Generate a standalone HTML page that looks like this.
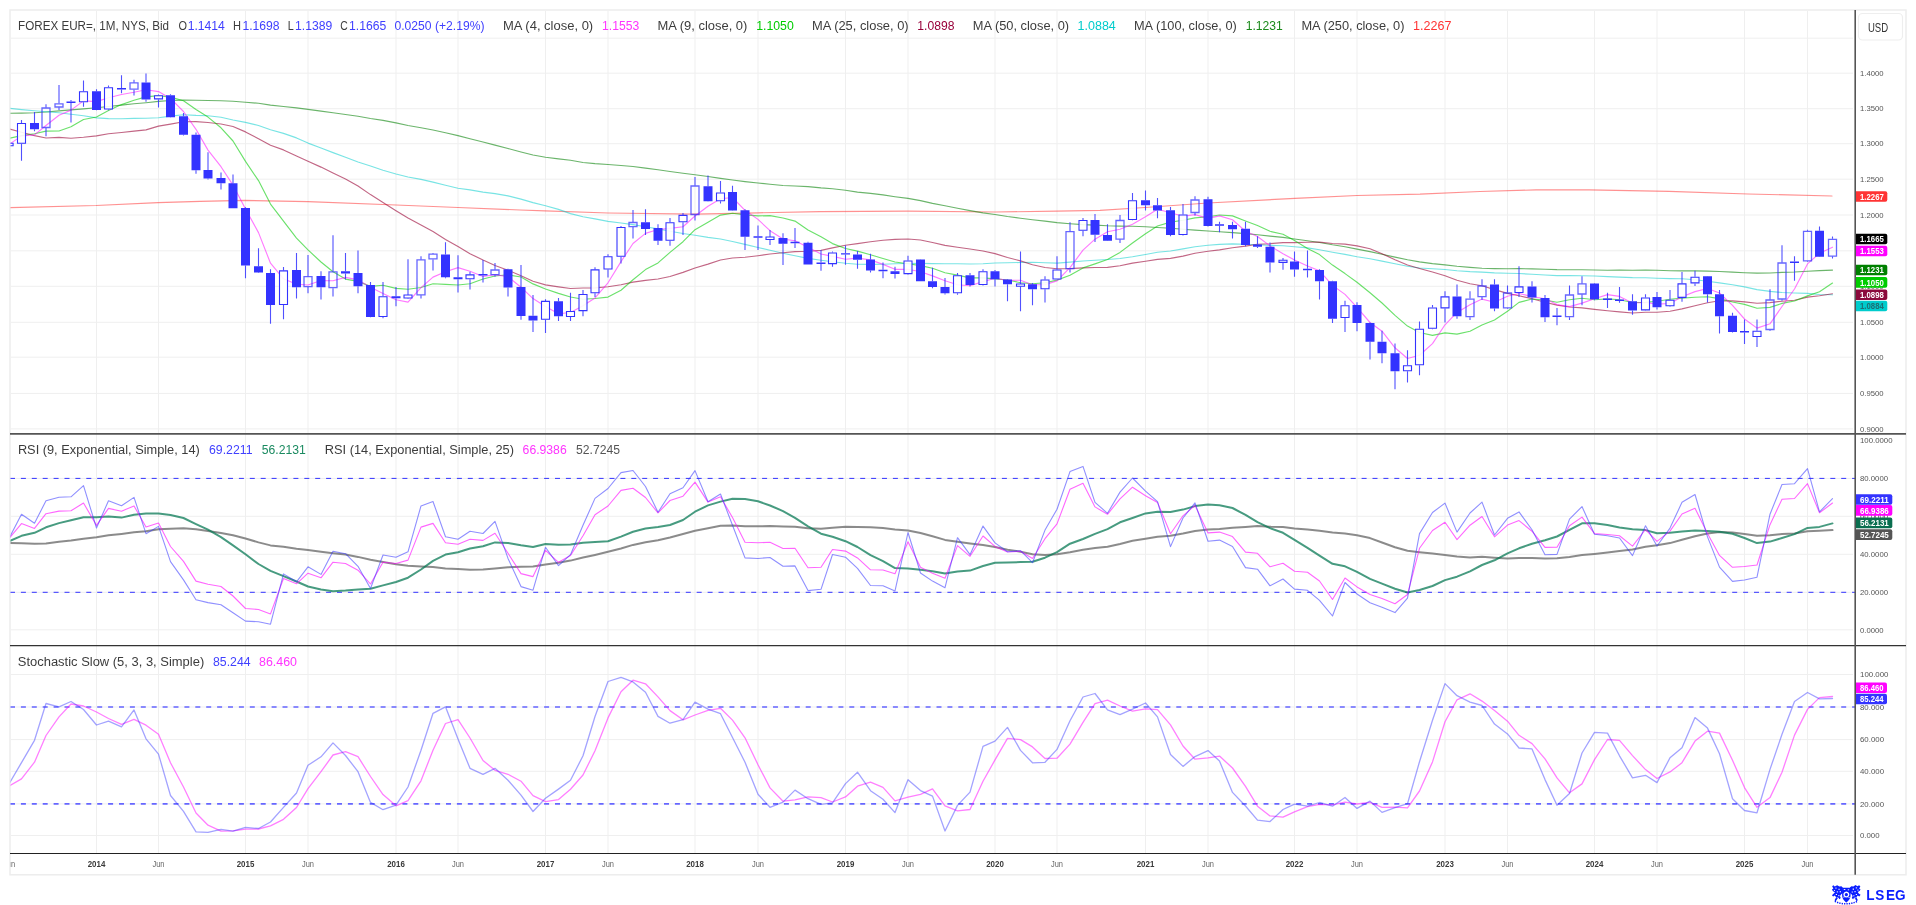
<!DOCTYPE html>
<html lang="en"><head><meta charset="utf-8"><title>FOREX EUR= 1M</title>
<style>html,body{margin:0;padding:0;background:#fff;overflow:hidden}body{width:1916px;height:905px;position:relative}</style></head>
<body>
<svg width="1916" height="905" viewBox="0 0 1916 905" style="position:absolute;left:0;top:0;will-change:transform;font-family:'Liberation Sans',sans-serif">
<defs><clipPath id="cp"><rect x="10.5" y="10" width="1844.5" height="844"/></clipPath></defs>
<defs><clipPath id="cp2"><rect x="10.5" y="855" width="1844" height="19"/></clipPath></defs>
<rect x="0" y="0" width="1916" height="905" fill="#fff"/>
<rect x="10" y="10" width="1896" height="864.8" fill="none" stroke="#ededed" stroke-width="1.5"/>
<path d="M96.5 11V853 M158.5 11V853 M245.5 11V853 M308.0 11V853 M396.0 11V853 M458.0 11V853 M545.5 11V853 M608.0 11V853 M695.0 11V853 M758.0 11V853 M845.5 11V853 M908.0 11V853 M995.0 11V853 M1057.0 11V853 M1145.5 11V853 M1208.0 11V853 M1294.5 11V853 M1357.0 11V853 M1445.0 11V853 M1507.5 11V853 M1594.5 11V853 M1657.0 11V853 M1744.5 11V853 M1807.5 11V853 M11 38.2H1853 M11 73.2H1853 M11 108.7H1853 M11 143.7H1853 M11 179.2H1853 M11 215.0H1853 M11 250.8H1853 M11 286.3H1853 M11 322.3H1853 M11 357.2H1853 M11 393.4H1853 M11 428.9H1853 M11 629.8H1853 M11 592.3H1853 M11 554.3H1853 M11 516.3H1853 M11 478.4H1853 M11 835.5H1853 M11 803.9H1853 M11 771.3H1853 M11 739.6H1853 M11 707.0H1853 M11 674.5H1853" stroke="#efefef" stroke-width="1" fill="none"/>
<g clip-path="url(#cp)" fill="none" stroke-linejoin="round" stroke-linecap="round">
<polyline points="7.0,207.6 96.0,205.5 158.0,202.6 200.0,201.3 245.0,200.4 308.0,201.7 396.0,205.0 458.0,207.5 520.0,210.0 545.0,210.8 608.0,213.0 695.0,214.2 758.0,212.8 820.0,211.7 908.0,211.2 995.0,212.0 1057.0,211.2 1100.0,210.3 1145.0,207.5 1208.0,203.0 1295.0,198.3 1357.0,195.5 1420.0,194.2 1480.0,191.5 1536.0,189.9 1589.0,189.8 1669.0,191.4 1748.0,194.0 1832.0,196.0" stroke="#ff3333" stroke-width="1.2" stroke-opacity="0.54"/>
<polyline points="9.1,113.3 21.5,113.1 34.5,112.8 46.0,112.0 59.0,110.9 71.0,109.9 83.5,108.9 96.5,107.8 108.5,106.5 121.5,105.1 134.0,103.7 146.0,102.7 158.5,101.4 170.5,100.5 183.5,100.1 196.0,100.3 208.0,100.5 221.0,100.7 233.0,101.2 245.5,102.2 258.5,103.3 270.5,105.1 283.5,106.5 296.5,107.9 308.0,109.4 321.0,111.1 333.0,112.8 345.5,114.5 358.0,116.3 370.5,118.5 383.0,120.4 396.0,122.9 408.0,125.5 421.0,127.8 433.0,130.0 445.5,132.7 458.0,135.6 470.0,138.8 483.0,142.0 495.0,145.1 508.0,148.5 521.0,152.0 533.0,155.0 545.5,157.3 558.5,158.9 570.5,160.3 583.0,162.5 595.0,163.6 608.0,164.5 621.0,165.5 633.0,166.5 645.5,168.1 658.0,169.8 670.0,171.5 683.0,173.2 695.0,174.7 708.0,176.5 720.5,178.4 732.5,180.0 745.0,181.6 758.0,183.0 770.0,184.3 783.0,185.5 795.0,186.0 808.0,186.6 821.0,187.9 832.5,188.7 845.5,190.3 857.5,192.1 870.5,193.4 883.0,194.9 895.0,196.7 908.0,198.4 920.5,200.6 932.5,203.4 945.0,205.8 957.5,208.2 970.0,210.6 983.0,212.9 995.0,214.5 1007.5,216.5 1020.5,218.2 1032.5,219.7 1045.0,221.1 1057.0,222.6 1070.0,223.7 1083.0,224.6 1095.0,225.1 1107.5,225.8 1120.0,226.1 1132.5,226.3 1145.5,226.8 1157.5,227.5 1170.5,228.3 1183.0,229.2 1195.0,230.1 1208.0,231.0 1219.5,231.7 1232.5,232.6 1245.5,233.6 1257.5,234.7 1270.0,236.1 1283.0,237.4 1294.5,239.0 1307.5,240.7 1319.5,242.5 1332.5,244.8 1345.0,246.7 1357.0,249.1 1370.0,251.6 1382.0,254.3 1395.0,257.1 1407.5,259.8 1419.5,261.9 1432.5,263.6 1445.0,264.9 1457.0,266.3 1470.0,267.4 1482.0,268.2 1494.5,268.6 1507.5,268.8 1519.0,268.6 1532.0,268.9 1545.0,269.2 1557.0,269.6 1569.5,269.7 1582.0,269.8 1594.5,270.0 1607.5,270.2 1619.5,270.0 1632.5,270.2 1645.5,270.1 1657.0,270.3 1670.0,270.7 1682.0,270.9 1695.0,270.9 1707.5,271.1 1719.5,271.5 1732.5,272.1 1744.5,272.7 1757.0,273.1 1770.0,273.0 1782.0,272.4 1794.5,272.0 1807.5,271.2 1819.5,270.6 1832.5,270.1" stroke="#008000" stroke-width="1.15" stroke-opacity="0.58"/>
<polyline points="9.1,108.3 21.5,109.6 34.5,110.7 46.0,111.8 59.0,112.8 71.0,114.3 83.5,115.7 96.5,117.9 108.5,118.6 121.5,118.7 134.0,118.4 146.0,118.2 158.5,117.7 170.5,116.1 183.5,114.8 196.0,115.4 208.0,115.7 221.0,117.3 233.0,120.0 245.5,122.4 258.5,125.5 270.5,129.7 283.5,133.4 296.5,137.9 308.0,143.1 321.0,148.0 333.0,152.6 345.5,157.2 358.0,162.0 370.5,166.0 383.0,170.3 396.0,174.0 408.0,177.0 421.0,179.4 433.0,182.1 445.5,185.2 458.0,188.2 470.0,189.9 483.0,192.1 495.0,193.6 508.0,195.9 521.0,199.1 533.0,202.6 545.5,205.7 558.5,209.4 570.5,213.6 583.0,216.7 595.0,218.9 608.0,221.4 621.0,223.0 633.0,224.6 645.5,226.7 658.0,228.9 670.0,231.3 683.0,233.5 695.0,235.2 708.0,237.4 720.5,239.0 732.5,241.5 745.0,244.4 758.0,247.5 770.0,250.3 783.0,253.3 795.0,255.8 808.0,258.4 821.0,260.3 832.5,261.8 845.5,263.2 857.5,264.2 870.5,264.4 883.0,264.3 895.0,263.7 908.0,263.5 920.5,263.4 932.5,263.6 945.0,263.7 957.5,263.8 970.0,264.0 983.0,263.7 995.0,263.0 1007.5,262.7 1020.5,262.5 1032.5,262.3 1045.0,262.7 1057.0,263.1 1070.0,262.1 1083.0,261.0 1095.0,260.2 1107.5,259.5 1120.0,258.5 1132.5,256.7 1145.5,254.5 1157.5,252.3 1170.5,251.0 1183.0,248.9 1195.0,246.7 1208.0,245.3 1219.5,244.4 1232.5,243.9 1245.5,244.3 1257.5,244.8 1270.0,245.4 1283.0,245.8 1294.5,246.8 1307.5,247.9 1319.5,249.8 1332.5,252.2 1345.0,254.4 1357.0,256.7 1370.0,258.8 1382.0,261.1 1395.0,263.8 1407.5,266.3 1419.5,268.0 1432.5,268.8 1445.0,269.5 1457.0,270.7 1470.0,271.6 1482.0,272.1 1494.5,272.9 1507.5,273.3 1519.0,273.5 1532.0,274.3 1545.0,275.0 1557.0,275.6 1569.5,275.6 1582.0,275.8 1594.5,276.0 1607.5,276.6 1619.5,277.1 1632.5,277.6 1645.5,277.8 1657.0,278.2 1670.0,278.6 1682.0,278.8 1695.0,279.7 1707.5,281.2 1719.5,282.9 1732.5,284.7 1744.5,286.9 1757.0,289.6 1770.0,291.4 1782.0,292.5 1794.5,293.0 1807.5,293.4 1819.5,294.5 1832.5,294.8" stroke="#00cccc" stroke-width="1.15" stroke-opacity="0.53"/>
<polyline points="9.1,128.8 21.5,132.2 34.5,135.6 46.0,138.0 59.0,137.4 71.0,138.2 83.5,137.3 96.5,135.9 108.5,133.8 121.5,132.5 134.0,131.1 146.0,129.9 158.5,126.1 170.5,124.1 183.5,121.7 196.0,121.6 208.0,122.5 221.0,124.0 233.0,126.5 245.5,131.9 258.5,138.7 270.5,145.3 283.5,149.9 296.5,156.1 308.0,161.3 321.0,167.1 333.0,173.0 345.5,178.9 358.0,186.0 370.5,194.6 383.0,202.4 396.0,210.7 408.0,218.1 421.0,225.0 433.0,231.6 445.5,239.4 458.0,246.6 470.0,253.7 483.0,260.1 495.0,265.5 508.0,270.2 521.0,275.7 533.0,281.2 545.5,284.9 558.5,286.9 570.5,288.5 583.0,288.0 595.0,287.9 608.0,286.7 621.0,284.7 633.0,282.1 645.5,280.4 658.0,279.0 670.0,276.5 683.0,272.4 695.0,268.0 708.0,264.1 720.5,260.0 732.5,258.0 745.0,257.3 758.0,255.7 770.0,254.0 783.0,252.8 795.0,251.6 808.0,251.3 821.0,250.4 832.5,247.9 845.5,245.2 857.5,243.6 870.5,241.8 883.0,240.2 895.0,239.4 908.0,239.0 920.5,240.0 932.5,242.5 945.0,245.4 957.5,247.2 970.0,249.0 983.0,251.0 995.0,253.6 1007.5,257.5 1020.5,260.9 1032.5,264.7 1045.0,267.5 1057.0,268.8 1070.0,268.6 1083.0,267.9 1095.0,267.5 1107.5,267.4 1120.0,265.7 1132.5,263.1 1145.5,261.2 1157.5,259.4 1170.5,258.4 1183.0,256.1 1195.0,253.2 1208.0,251.3 1219.5,249.9 1232.5,247.8 1245.5,246.1 1257.5,244.2 1270.0,243.7 1283.0,242.6 1294.5,242.6 1307.5,242.2 1319.5,242.1 1332.5,243.5 1345.0,244.1 1357.0,245.9 1370.0,248.8 1382.0,253.7 1395.0,259.7 1407.5,265.0 1419.5,268.5 1432.5,272.0 1445.0,275.8 1457.0,280.3 1470.0,283.8 1482.0,285.8 1494.5,289.6 1507.5,293.4 1519.0,295.8 1532.0,298.7 1545.0,302.2 1557.0,305.1 1569.5,307.0 1582.0,307.9 1594.5,309.4 1607.5,310.7 1619.5,311.9 1632.5,313.0 1645.5,312.2 1657.0,312.2 1670.0,311.2 1682.0,308.9 1695.0,305.8 1707.5,302.7 1719.5,300.8 1732.5,300.9 1744.5,301.9 1757.0,303.3 1770.0,302.6 1782.0,301.2 1794.5,300.3 1807.5,297.1 1819.5,295.7 1832.5,293.8" stroke="#990033" stroke-width="1.15" stroke-opacity="0.6"/>
<polyline points="9.1,138.3 21.5,135.6 34.5,133.7 46.0,131.1 59.0,131.0 71.0,126.8 83.5,119.5 96.5,117.0 108.5,110.6 121.5,104.6 134.0,100.2 146.0,96.9 158.5,95.6 170.5,97.1 183.5,100.7 196.0,109.5 208.0,117.1 221.0,127.8 233.0,141.0 245.5,161.4 258.5,180.6 270.5,204.1 283.5,221.2 296.5,238.1 308.0,249.9 321.0,262.0 333.0,271.8 345.5,279.1 358.0,281.4 370.5,286.4 383.0,285.3 396.0,288.4 408.0,289.3 421.0,287.5 433.0,283.8 445.5,284.4 458.0,285.0 470.0,283.7 483.0,279.0 495.0,276.0 508.0,274.8 521.0,277.0 533.0,283.9 545.5,289.0 558.5,293.4 570.5,297.0 583.0,299.2 595.0,298.5 608.0,297.1 621.0,290.3 633.0,279.8 645.5,269.6 658.0,262.9 670.0,252.4 683.0,241.7 695.0,229.7 708.0,222.2 720.5,215.1 732.5,213.2 745.0,214.9 758.0,215.9 770.0,215.6 783.0,218.0 795.0,221.1 808.0,229.9 821.0,236.8 832.5,243.6 845.5,248.5 857.5,251.1 870.5,254.8 883.0,258.5 895.0,262.0 908.0,263.8 920.5,265.6 932.5,268.3 945.0,272.8 957.5,275.1 970.0,277.9 983.0,277.9 995.0,278.9 1007.5,280.0 1020.5,282.7 1032.5,283.7 1045.0,282.8 1057.0,280.1 1070.0,275.2 1083.0,267.9 1095.0,263.9 1107.5,259.5 1120.0,252.4 1132.5,243.0 1145.5,233.7 1157.5,226.0 1170.5,222.1 1183.0,220.2 1195.0,217.9 1208.0,216.8 1219.5,215.0 1232.5,215.9 1245.5,221.0 1257.5,225.5 1270.0,231.3 1283.0,234.2 1294.5,240.4 1307.5,248.4 1319.5,254.6 1332.5,265.1 1345.0,273.6 1357.0,282.2 1370.0,292.8 1382.0,303.0 1395.0,315.4 1407.5,326.1 1419.5,332.5 1432.5,335.4 1445.0,332.9 1457.0,334.1 1470.0,331.3 1482.0,325.0 1494.5,320.0 1507.5,311.2 1519.0,302.4 1532.0,299.0 1545.0,300.0 1557.0,302.3 1569.5,299.8 1582.0,298.2 1594.5,299.8 1607.5,298.9 1619.5,299.8 1632.5,302.5 1645.5,302.4 1657.0,301.3 1670.0,299.3 1682.0,298.1 1695.0,297.3 1707.5,296.8 1719.5,298.6 1732.5,302.0 1744.5,304.4 1757.0,308.2 1770.0,307.4 1782.0,303.4 1794.5,301.0 1807.5,295.9 1819.5,291.7 1832.5,283.1" stroke="#00cc00" stroke-width="1.15" stroke-opacity="0.58"/>
<polyline points="9.1,144.5 21.5,135.9 34.5,134.9 46.0,125.5 59.0,115.3 71.0,110.1 83.5,100.9 96.5,101.6 108.5,97.7 121.5,94.5 134.0,92.3 146.0,89.7 158.5,91.6 170.5,98.4 183.5,111.5 196.0,129.3 208.0,150.1 221.0,166.7 233.0,185.1 245.5,209.0 258.5,232.6 270.5,263.2 283.5,278.8 296.5,284.2 308.0,285.0 321.0,280.5 333.0,280.8 345.5,277.4 358.0,279.9 370.5,287.3 383.0,293.6 396.0,299.7 408.0,302.1 421.0,287.6 433.0,277.1 445.5,271.8 458.0,267.6 470.0,271.3 483.0,276.5 495.0,274.6 508.0,276.8 521.0,287.2 533.0,298.6 545.5,306.5 558.5,313.7 570.5,312.5 583.0,305.8 595.0,297.9 608.0,282.8 621.0,261.6 633.0,243.5 645.5,233.4 658.0,229.5 670.0,228.4 683.0,226.7 695.0,216.0 708.0,206.3 720.5,198.8 732.5,197.5 745.0,210.3 758.0,219.4 770.0,230.7 783.0,239.1 795.0,240.7 808.0,247.3 821.0,254.0 832.5,256.4 845.5,259.2 857.5,258.1 870.5,259.9 883.0,264.4 895.0,269.3 908.0,269.3 920.5,271.8 932.5,275.9 945.0,280.8 957.5,284.7 970.0,285.7 983.0,281.6 995.0,278.2 1007.5,280.4 1020.5,280.2 1032.5,284.8 1045.0,284.6 1057.0,280.9 1070.0,267.6 1083.0,250.2 1095.0,239.2 1107.5,231.8 1120.0,229.2 1132.5,224.2 1145.5,216.8 1157.5,209.2 1170.5,212.7 1183.0,216.2 1195.0,214.6 1208.0,218.4 1219.5,215.9 1232.5,219.7 1245.5,231.2 1257.5,236.5 1270.0,245.9 1283.0,253.7 1294.5,259.9 1307.5,266.0 1319.5,270.8 1332.5,285.4 1345.0,294.4 1357.0,307.4 1370.0,322.5 1382.0,331.2 1395.0,347.8 1407.5,358.5 1419.5,355.2 1432.5,343.6 1445.0,324.8 1457.0,312.4 1470.0,304.7 1482.0,299.1 1494.5,302.2 1507.5,296.3 1519.0,293.5 1532.0,296.6 1545.0,298.7 1557.0,304.6 1569.5,306.6 1582.0,303.1 1594.5,298.7 1607.5,294.6 1619.5,296.4 1632.5,303.0 1645.5,302.5 1657.0,304.1 1670.0,303.5 1682.0,296.7 1695.0,291.6 1707.5,288.5 1719.5,293.0 1732.5,305.3 1744.5,319.0 1757.0,328.1 1770.0,323.8 1782.0,306.5 1794.5,289.0 1807.5,263.9 1819.5,253.2 1832.5,247.2" stroke="#ff00ff" stroke-width="1.15" stroke-opacity="0.52"/>
</g>
<g clip-path="url(#cp)">
<path d="M9.1 114.5V142.7M9.1 146.3V147.2 M21.5 120.0V123.0M21.5 143.8V160.8 M34.5 112.0V123.0M34.5 129.2V131.3 M46.0 104.2V107.5M46.0 128.0V136.3 M59.0 85.0V103.3M59.0 107.5V110.0 M71.0 100.0V101.6M71.0 103.1V122.5 M83.5 80.6V91.2M83.5 102.2V106.7 M96.5 89.2V91.2M96.5 110.1V110.3 M108.5 85.4V87.2M108.5 109.5V110.2 M121.5 75.3V87.9M121.5 89.4V93.3 M134.0 79.7V82.4M134.0 89.7V95.5 M146.0 73.5V82.4M146.0 99.4V101.7 M158.5 94.5V95.2M158.5 99.4V107.5 M170.5 94.2V95.2M170.5 117.3V117.5 M183.5 113.0V116.3M183.5 134.8V135.5 M196.0 132.6V134.7M196.0 170.3V173.8 M208.0 152.2V170.0M208.0 178.5V179.5 M221.0 172.4V178.0M221.0 183.2V189.6 M233.0 174.5V183.2M233.0 208.2V208.3 M245.5 207.3V208.0M245.5 265.5V278.3 M258.5 248.3V266.2M258.5 272.4V272.9 M270.5 269.2V273.0M270.5 305.0V323.8 M283.5 267.0V270.4M283.5 305.0V319.2 M296.5 253.0V270.0M296.5 287.3V298.4 M308.0 255.0V276.2M308.0 287.1V293.3 M321.0 271.2V276.1M321.0 287.3V299.5 M333.0 235.3V271.3M333.0 288.2V296.4 M345.5 253.0V271.2M345.5 273.4V279.5 M358.0 250.4V273.0M358.0 286.2V293.3 M370.5 282.0V285.1M370.5 317.0V317.2 M383.0 282.0V296.2M383.0 317.0V318.3 M396.0 287.0V296.2M396.0 298.2V306.3 M408.0 259.2V295.0M408.0 298.0V298.6 M421.0 256.2V259.4M421.0 295.3V298.4 M433.0 253.0V253.7M433.0 259.4V270.5 M445.5 242.2V254.5M445.5 277.3V278.3 M458.0 255.3V277.2M458.0 279.3V292.5 M470.0 271.7V274.4M470.0 279.2V289.5 M483.0 260.0V273.9M483.0 275.4V282.5 M495.0 262.9V269.5M495.0 275.2V276.7 M508.0 268.8V269.2M508.0 287.5V296.4 M521.0 265.0V287.1M521.0 316.0V319.7 M533.0 295.0V315.8M533.0 320.6V332.0 M545.5 299.3V300.9M545.5 319.7V332.9 M558.5 298.0V301.2M558.5 316.2V321.1 M570.5 292.8V311.0M570.5 317.0V321.1 M583.0 290.0V294.0M583.0 311.1V316.2 M595.0 267.2V269.4M595.0 293.3V297.1 M608.0 254.2V256.3M608.0 269.5V277.5 M621.0 225.9V227.0M621.0 256.7V263.4 M633.0 210.0V222.0M633.0 227.1V238.6 M645.5 209.2V222.2M645.5 229.1V235.0 M658.0 224.2V228.0M658.0 240.7V245.0 M670.0 218.0V222.2M670.0 240.8V245.8 M683.0 213.0V214.9M683.0 222.2V235.0 M695.0 176.9V185.5M695.0 215.0V220.5 M708.0 175.6V186.3M708.0 201.3V201.5 M720.5 180.9V192.5M720.5 201.3V203.4 M732.5 185.8V192.1M732.5 210.5V210.7 M745.0 209.2V210.3M745.0 236.7V250.0 M758.0 225.5V236.2M758.0 237.7V250.0 M770.0 230.0V237.0M770.0 239.5V245.0 M783.0 233.3V238.0M783.0 243.8V265.0 M795.0 227.9V241.7M795.0 243.2V248.0 M808.0 241.7V242.8M808.0 264.5V264.6 M821.0 250.0V262.6M821.0 264.1V270.8 M832.5 251.4V252.5M832.5 264.1V266.7 M845.5 245.5V253.2M845.5 254.6V264.7 M857.5 250.9V254.5M857.5 259.7V268.7 M870.5 253.8V259.5M870.5 270.5V272.5 M883.0 262.5V269.8M883.0 271.3V278.2 M895.0 266.7V271.2M895.0 274.1V278.4 M908.0 255.8V260.5M908.0 274.1V274.5 M920.5 259.2V259.5M920.5 281.2V281.3 M932.5 267.8V281.2M932.5 287.1V288.3 M945.0 278.0V287.1M945.0 293.3V294.6 M957.5 273.0V275.3M957.5 293.3V294.7 M970.0 273.0V275.3M970.0 285.0V286.4 M983.0 269.2V271.2M983.0 285.0V285.4 M995.0 270.0V271.2M995.0 279.2V286.4 M1007.5 279.1V279.5M1007.5 284.2V301.3 M1020.5 251.4V284.0M1020.5 286.2V311.3 M1032.5 283.0V284.2M1032.5 289.2V305.3 M1045.0 276.2V279.5M1045.0 289.2V302.5 M1057.0 256.3V269.5M1057.0 279.5V279.6 M1070.0 222.2V231.2M1070.0 269.2V272.5 M1083.0 218.0V220.0M1083.0 230.8V236.2 M1095.0 213.9V220.0M1095.0 234.7V242.0 M1107.5 224.2V235.0M1107.5 240.8V241.0 M1120.0 215.0V220.0M1120.0 239.6V243.0 M1132.5 193.0V200.3M1132.5 220.0V220.3 M1145.5 190.4V200.3M1145.5 205.3V210.5 M1157.5 198.0V205.3M1157.5 210.5V218.3 M1170.5 207.0V210.3M1170.5 235.0V236.3 M1183.0 204.1V214.5M1183.0 235.0V235.4 M1195.0 196.2V199.5M1195.0 213.0V215.4 M1208.0 196.7V199.2M1208.0 225.9V226.4 M1219.5 221.7V224.3M1219.5 225.8V232.2 M1232.5 221.7V225.0M1232.5 229.2V238.4 M1245.5 221.7V228.8M1245.5 245.0V246.2 M1257.5 236.3V244.5M1257.5 246.7V248.0 M1270.0 242.5V246.7M1270.0 262.5V272.5 M1283.0 258.0V260.2M1283.0 262.4V269.7 M1294.5 251.4V261.4M1294.5 269.5V276.7 M1307.5 250.4V268.8M1307.5 270.3V277.5 M1319.5 269.2V270.0M1319.5 281.3V299.5 M1332.5 280.8V281.2M1332.5 318.8V323.0 M1345.0 300.8V305.2M1345.0 318.0V332.1 M1357.0 302.2V305.0M1357.0 323.0V331.2 M1370.0 322.6V323.0M1370.0 341.7V359.5 M1382.0 330.8V341.7M1382.0 353.3V363.3 M1395.0 343.4V353.3M1395.0 371.2V389.2 M1407.5 350.3V365.3M1407.5 371.2V382.5 M1419.5 321.6V328.8M1419.5 365.3V375.3 M1432.5 305.0V307.5M1432.5 328.8V329.3 M1445.0 291.2V296.4M1445.0 308.4V322.5 M1457.0 284.5V296.4M1457.0 316.2V318.8 M1470.0 291.2V298.6M1470.0 317.2V320.0 M1482.0 279.2V285.5M1482.0 297.1V300.0 M1494.5 279.2V284.5M1494.5 308.4V311.3 M1507.5 285.4V292.5M1507.5 308.4V308.9 M1519.0 266.3V286.4M1519.0 293.0V297.1 M1532.0 281.2V286.4M1532.0 297.5V302.5 M1545.0 295.0V298.0M1545.0 317.2V322.1 M1557.0 308.0V315.5M1557.0 317.0V325.3 M1569.5 285.4V294.5M1569.5 317.2V320.0 M1582.0 276.2V283.4M1582.0 294.5V305.3 M1594.5 283.0V283.4M1594.5 299.3V300.3 M1607.5 292.8V298.6M1607.5 300.1V307.9 M1619.5 287.0V299.6M1619.5 301.1V302.8 M1632.5 294.2V301.2M1632.5 310.5V314.7 M1645.5 294.2V297.5M1645.5 310.4V310.8 M1657.0 292.0V297.1M1657.0 307.2V309.5 M1670.0 290.0V299.7M1670.0 306.3V306.7 M1682.0 272.0V283.4M1682.0 297.9V301.7 M1695.0 270.8V276.7M1695.0 283.4V285.9 M1707.5 276.1V276.3M1707.5 294.2V302.5 M1719.5 290.0V294.2M1719.5 316.2V333.4 M1732.5 312.8V315.8M1732.5 332.0V332.5 M1744.5 319.5V330.9M1744.5 332.4V344.1 M1757.0 319.5V330.8M1757.0 337.0V347.0 M1770.0 289.2V299.5M1770.0 330.0V330.7 M1782.0 245.3V262.5M1782.0 299.5V300.8 M1794.5 256.2V261.4M1794.5 262.9V280.8 M1807.5 229.7V230.8M1807.5 261.4V261.9 M1819.5 226.6V230.8M1819.5 256.7V257.0 M1832.5 236.4V238.8M1832.5 256.6V258.4" stroke="#3333ff" stroke-width="1.1" stroke-opacity="0.85" fill="none"/>
<path d="M30.0 123.0h9V129.2h-9z M66.5 101.6h9V103.1h-9z M92.0 91.2h9V110.1h-9z M117.0 87.9h9V89.4h-9z M141.5 82.4h9V99.4h-9z M166.0 95.2h9V117.3h-9z M179.0 116.3h9V134.8h-9z M191.5 134.7h9V170.3h-9z M203.5 170.0h9V178.5h-9z M216.5 178.0h9V183.2h-9z M228.5 183.2h9V208.2h-9z M241.0 208.0h9V265.5h-9z M254.0 266.2h9V272.4h-9z M266.0 273.0h9V305.0h-9z M292.0 270.0h9V287.3h-9z M316.5 276.1h9V287.3h-9z M341.0 271.2h9V273.4h-9z M353.5 273.0h9V286.2h-9z M366.0 285.1h9V317.0h-9z M391.5 296.2h9V298.2h-9z M441.0 254.5h9V277.3h-9z M453.5 277.2h9V279.3h-9z M478.5 273.9h9V275.4h-9z M503.5 269.2h9V287.5h-9z M516.5 287.1h9V316.0h-9z M528.5 315.8h9V320.6h-9z M554.0 301.2h9V316.2h-9z M641.0 222.2h9V229.1h-9z M653.5 228.0h9V240.7h-9z M703.5 186.3h9V201.3h-9z M728.0 192.1h9V210.5h-9z M740.5 210.3h9V236.7h-9z M753.5 236.2h9V237.7h-9z M778.5 238.0h9V243.8h-9z M790.5 241.7h9V243.2h-9z M803.5 242.8h9V264.5h-9z M816.5 262.6h9V264.1h-9z M841.0 253.2h9V254.6h-9z M853.0 254.5h9V259.7h-9z M866.0 259.5h9V270.5h-9z M878.5 269.8h9V271.3h-9z M890.5 271.2h9V274.1h-9z M916.0 259.5h9V281.2h-9z M928.0 281.2h9V287.1h-9z M940.5 287.1h9V293.3h-9z M965.5 275.3h9V285.0h-9z M990.5 271.2h9V279.2h-9z M1003.0 279.5h9V284.2h-9z M1028.0 284.2h9V289.2h-9z M1090.5 220.0h9V234.7h-9z M1103.0 235.0h9V240.8h-9z M1141.0 200.3h9V205.3h-9z M1153.0 205.3h9V210.5h-9z M1166.0 210.3h9V235.0h-9z M1203.5 199.2h9V225.9h-9z M1215.0 224.3h9V225.8h-9z M1228.0 225.0h9V229.2h-9z M1241.0 228.8h9V245.0h-9z M1253.0 244.5h9V246.7h-9z M1265.5 246.7h9V262.5h-9z M1290.0 261.4h9V269.5h-9z M1303.0 268.8h9V270.3h-9z M1315.0 270.0h9V281.3h-9z M1328.0 281.2h9V318.8h-9z M1352.5 305.0h9V323.0h-9z M1365.5 323.0h9V341.7h-9z M1377.5 341.7h9V353.3h-9z M1390.5 353.3h9V371.2h-9z M1452.5 296.4h9V316.2h-9z M1490.0 284.5h9V308.4h-9z M1527.5 286.4h9V297.5h-9z M1540.5 298.0h9V317.2h-9z M1552.5 315.5h9V317.0h-9z M1590.0 283.4h9V299.3h-9z M1603.0 298.6h9V300.1h-9z M1615.0 299.6h9V301.1h-9z M1628.0 301.2h9V310.5h-9z M1652.5 297.1h9V307.2h-9z M1703.0 276.3h9V294.2h-9z M1715.0 294.2h9V316.2h-9z M1728.0 315.8h9V332.0h-9z M1740.0 330.9h9V332.4h-9z M1790.0 261.4h9V262.9h-9z M1815.0 230.8h9V256.7h-9z" fill="#3333ff"/>
<path d="M5.1 143.2h8V145.8h-8z M17.5 123.5h8V143.3h-8z M79.5 91.7h8V101.7h-8z M104.5 87.7h8V109.0h-8z M154.5 95.7h8V98.9h-8z M279.5 270.9h8V304.5h-8z M379.0 296.7h8V316.5h-8z M404.0 295.0h8V298.0h-8z M466.0 274.9h8V278.7h-8z M541.5 301.4h8V319.2h-8z M566.5 311.5h8V316.5h-8z M579.0 294.5h8V310.6h-8z M591.0 269.9h8V292.8h-8z M604.0 256.8h8V269.0h-8z M617.0 227.5h8V256.2h-8z M666.0 222.7h8V240.3h-8z M679.0 215.4h8V221.7h-8z M716.5 193.0h8V200.8h-8z M766.0 237.0h8V239.5h-8z M828.5 253.0h8V263.6h-8z M904.0 261.0h8V273.6h-8z M953.5 275.8h8V292.8h-8z M979.0 271.7h8V284.5h-8z M1016.5 284.0h8V286.2h-8z M1041.0 280.0h8V288.7h-8z M1053.0 270.0h8V279.0h-8z M1079.0 220.5h8V230.3h-8z M1128.5 200.8h8V219.5h-8z M1179.0 215.0h8V234.5h-8z M1279.0 260.2h8V262.4h-8z M1341.0 305.7h8V317.5h-8z M1403.5 365.8h8V370.7h-8z M1415.5 329.3h8V364.8h-8z M1428.5 308.0h8V328.3h-8z M1441.0 296.9h8V307.9h-8z M1515.0 286.9h8V292.5h-8z M1641.5 298.0h8V309.9h-8z M1666.0 300.2h8V305.8h-8z M1678.0 283.9h8V297.4h-8z M1691.0 277.2h8V282.9h-8z M1753.0 331.3h8V336.5h-8z" fill="#fff" fill-opacity="0.9" stroke="#3333ff" stroke-width="1.1"/>
<path d="M42.0 108.0h8V127.5h-8z M55.0 103.8h8V107.0h-8z M130.0 82.9h8V89.2h-8z M304.0 276.7h8V286.6h-8z M329.0 271.8h8V287.7h-8z M417.0 259.9h8V294.8h-8z M429.0 254.2h8V258.9h-8z M491.0 270.0h8V274.7h-8z M629.0 222.5h8V226.6h-8z M691.0 186.0h8V214.5h-8z M1066.0 231.7h8V268.7h-8z M1116.0 220.5h8V239.1h-8z M1191.0 200.0h8V212.5h-8z M1466.0 299.1h8V316.7h-8z M1478.0 286.0h8V296.6h-8z M1503.5 293.0h8V307.9h-8z M1565.5 295.0h8V316.7h-8z M1578.0 283.9h8V294.0h-8z M1766.0 300.0h8V329.5h-8z M1778.0 263.0h8V299.0h-8z M1803.5 231.3h8V260.9h-8z M1828.5 239.3h8V256.1h-8z" fill="none" stroke="#3333ff" stroke-width="1.3" stroke-opacity="0.75"/>
</g>
<g clip-path="url(#cp)" fill="none" stroke-linejoin="round" stroke-linecap="round">
<path d="M10 478.4H1855" stroke="#3333ff" stroke-width="1" stroke-dasharray="5 5.9" stroke-linecap="butt"/>
<path d="M10 592.3H1855" stroke="#3333ff" stroke-width="1" stroke-dasharray="5 5.9" stroke-linecap="butt"/>
<polyline points="9.1,542.9 21.5,543.3 34.5,543.7 46.0,543.5 59.0,541.7 71.0,540.6 83.5,538.7 96.5,537.2 108.5,535.3 121.5,533.9 134.0,532.3 146.0,531.3 158.5,529.2 170.5,528.7 183.5,528.3 196.0,529.3 208.0,531.0 221.0,532.9 233.0,535.2 245.5,538.5 258.5,542.4 270.5,545.4 283.5,546.7 296.5,548.8 308.0,550.1 321.0,551.7 333.0,553.2 345.5,554.6 358.0,556.9 370.5,559.8 383.0,561.9 396.0,564.3 408.0,565.7 421.0,566.4 433.0,566.9 445.5,568.4 458.0,569.1 470.0,569.7 483.0,569.5 495.0,568.4 508.0,567.2 521.0,566.8 533.0,566.4 545.5,564.6 558.5,562.7 570.5,560.6 583.0,557.5 595.0,554.9 608.0,551.8 621.0,548.5 633.0,544.9 645.5,542.3 658.0,540.3 670.0,537.5 683.0,534.0 695.0,530.8 708.0,528.3 720.5,525.8 732.5,525.4 745.0,526.2 758.0,526.2 770.0,526.1 783.0,526.5 795.0,526.8 808.0,528.2 821.0,528.7 832.5,527.8 845.5,526.7 857.5,527.0 870.5,527.3 883.0,527.9 895.0,529.4 908.0,530.5 920.5,533.0 932.5,536.3 945.0,539.9 957.5,541.8 970.0,543.5 983.0,545.0 995.0,547.0 1007.5,549.8 1020.5,551.7 1032.5,554.2 1045.0,555.0 1057.0,554.3 1070.0,552.2 1083.0,549.8 1095.0,548.1 1107.5,546.8 1120.0,544.0 1132.5,540.8 1145.5,538.7 1157.5,536.7 1170.5,535.8 1183.0,533.6 1195.0,531.0 1208.0,529.4 1219.5,529.0 1232.5,527.8 1245.5,526.9 1257.5,525.9 1270.0,526.8 1283.0,527.1 1294.5,528.5 1307.5,529.5 1319.5,530.7 1332.5,532.6 1345.0,533.4 1357.0,535.3 1370.0,538.1 1382.0,542.5 1395.0,547.3 1407.5,550.8 1419.5,552.2 1432.5,553.5 1445.0,554.9 1457.0,556.6 1470.0,557.5 1482.0,556.8 1494.5,557.7 1507.5,558.5 1519.0,558.0 1532.0,557.9 1545.0,558.4 1557.0,558.2 1569.5,557.1 1582.0,555.1 1594.5,553.9 1607.5,552.4 1619.5,551.0 1632.5,549.6 1645.5,546.8 1657.0,545.3 1670.0,543.1 1682.0,539.8 1695.0,536.2 1707.5,533.4 1719.5,531.9 1732.5,532.6 1744.5,534.1 1757.0,535.8 1770.0,535.2 1782.0,534.1 1794.5,533.4 1807.5,531.3 1819.5,530.8 1832.5,530.1" stroke="#777777" stroke-width="2" stroke-opacity="0.85"/>
<polyline points="9.1,541.3 21.5,535.8 34.5,532.8 46.0,527.3 59.0,523.1 71.0,520.3 83.5,517.2 96.5,517.2 108.5,516.5 121.5,517.6 134.0,514.7 146.0,513.4 158.5,513.4 170.5,515.0 183.5,518.0 196.0,524.1 208.0,529.7 221.0,537.2 233.0,545.4 245.5,554.3 258.5,564.0 270.5,570.9 283.5,576.1 296.5,581.5 308.0,586.5 321.0,589.4 333.0,591.2 345.5,590.6 358.0,589.6 370.5,588.8 383.0,585.4 396.0,582.0 408.0,577.7 421.0,569.5 433.0,560.9 445.5,554.6 458.0,552.2 470.0,548.5 483.0,546.2 495.0,542.4 508.0,542.9 521.0,545.2 533.0,547.0 545.5,544.0 558.5,544.8 570.5,544.6 583.0,542.7 595.0,542.1 608.0,541.2 621.0,536.6 633.0,531.7 645.5,528.5 658.0,527.0 670.0,525.0 683.0,520.0 695.0,511.7 708.0,505.4 720.5,501.6 732.5,498.7 745.0,498.9 758.0,501.3 770.0,505.5 783.0,511.1 795.0,517.8 808.0,526.3 821.0,533.7 832.5,536.7 845.5,541.2 857.5,547.0 870.5,555.2 883.0,561.2 895.0,568.1 908.0,568.6 920.5,569.7 932.5,571.3 945.0,573.5 957.5,571.4 970.0,570.6 983.0,566.0 995.0,562.7 1007.5,562.5 1020.5,562.1 1032.5,561.7 1045.0,557.7 1057.0,552.2 1070.0,543.7 1083.0,539.0 1095.0,533.9 1107.5,529.1 1120.0,522.3 1132.5,518.0 1145.5,513.4 1157.5,511.7 1170.5,512.0 1183.0,509.6 1195.0,506.1 1208.0,504.6 1219.5,505.3 1232.5,508.0 1245.5,514.8 1257.5,522.2 1270.0,528.1 1283.0,532.8 1294.5,539.8 1307.5,547.8 1319.5,555.6 1332.5,563.8 1345.0,566.3 1357.0,571.8 1370.0,578.9 1382.0,583.6 1395.0,588.8 1407.5,592.5 1419.5,590.0 1432.5,586.0 1445.0,580.1 1457.0,576.7 1470.0,571.3 1482.0,565.0 1494.5,560.3 1507.5,553.3 1519.0,548.3 1532.0,543.7 1545.0,540.3 1557.0,536.5 1569.5,529.8 1582.0,523.3 1594.5,523.3 1607.5,525.0 1619.5,527.5 1632.5,529.2 1645.5,530.1 1657.0,533.2 1670.0,532.7 1682.0,531.6 1695.0,530.4 1707.5,530.9 1719.5,531.7 1732.5,533.7 1744.5,538.0 1757.0,543.1 1770.0,541.6 1782.0,538.0 1794.5,534.1 1807.5,527.9 1819.5,526.9 1832.5,523.4" stroke="#0a7a55" stroke-width="2" stroke-opacity="0.75"/>
<polyline points="9.1,538.5 21.5,523.6 34.5,528.4 46.0,513.7 59.0,511.1 71.0,510.8 83.5,503.0 96.5,525.4 108.5,508.4 121.5,511.2 134.0,505.9 146.0,527.0 158.5,523.0 170.5,546.5 183.5,561.4 196.0,581.1 208.0,584.3 221.0,586.5 233.0,596.0 245.5,608.5 258.5,609.5 270.5,613.9 283.5,578.5 296.5,583.8 308.0,573.2 321.0,577.8 333.0,562.2 345.5,563.5 358.0,570.2 370.5,584.0 383.0,562.2 396.0,563.5 408.0,560.1 421.0,527.1 433.0,523.4 445.5,542.7 458.0,544.2 470.0,539.2 483.0,540.4 495.0,533.3 508.0,553.2 521.0,573.6 533.0,576.6 545.5,550.3 558.5,562.3 570.5,555.5 583.0,535.8 595.0,514.7 608.0,506.0 621.0,490.4 633.0,488.3 645.5,497.5 658.0,512.9 670.0,500.5 683.0,496.2 695.0,482.1 708.0,502.1 720.5,496.8 732.5,517.6 745.0,542.2 758.0,542.8 770.0,542.2 783.0,548.5 795.0,548.3 808.0,567.8 821.0,567.2 832.5,549.5 845.5,551.1 857.5,557.9 870.5,569.8 883.0,570.0 895.0,573.7 908.0,541.8 920.5,567.2 932.5,573.2 945.0,578.2 957.5,545.6 970.0,556.3 983.0,536.0 995.0,546.4 1007.5,552.0 1020.5,551.3 1032.5,558.5 1045.0,538.7 1057.0,523.9 1070.0,489.2 1083.0,483.2 1095.0,506.9 1107.5,514.3 1120.0,498.9 1132.5,487.2 1145.5,495.7 1157.5,502.4 1170.5,533.8 1183.0,515.8 1195.0,505.4 1208.0,532.9 1219.5,532.1 1232.5,536.6 1245.5,552.1 1257.5,553.3 1270.0,566.8 1283.0,563.2 1294.5,571.3 1307.5,572.3 1319.5,581.0 1332.5,599.5 1345.0,578.0 1357.0,586.9 1370.0,594.4 1382.0,598.5 1395.0,603.7 1407.5,594.5 1419.5,548.3 1432.5,530.5 1445.0,522.3 1457.0,539.6 1470.0,525.2 1482.0,516.5 1494.5,536.8 1507.5,525.1 1519.0,520.6 1532.0,531.2 1545.0,547.4 1557.0,547.2 1569.5,525.7 1582.0,517.1 1594.5,533.6 1607.5,534.5 1619.5,535.7 1632.5,546.1 1645.5,529.5 1657.0,541.4 1670.0,531.1 1682.0,514.0 1695.0,508.2 1707.5,533.5 1719.5,555.4 1732.5,567.3 1744.5,566.5 1757.0,565.0 1770.0,524.7 1782.0,499.2 1794.5,498.5 1807.5,483.6 1819.5,512.8 1832.5,503.0" stroke="#ff00ff" stroke-width="1.1" stroke-opacity="0.6"/>
<polyline points="9.1,538.2 21.5,514.2 34.5,523.2 46.0,500.8 59.0,497.2 71.0,496.8 83.5,485.6 96.5,528.0 108.5,500.7 121.5,505.8 134.0,497.4 146.0,533.7 158.5,526.4 170.5,561.6 183.5,579.9 196.0,599.7 208.0,602.6 221.0,604.7 233.0,612.7 245.5,621.1 258.5,621.7 270.5,624.2 283.5,573.9 296.5,581.8 308.0,566.8 321.0,574.4 333.0,551.3 345.5,553.7 358.0,566.3 370.5,588.5 383.0,555.0 396.0,557.2 408.0,551.8 421.0,505.9 433.0,501.5 445.5,536.8 458.0,539.3 470.0,531.2 483.0,533.5 495.0,521.4 508.0,558.4 521.0,586.6 533.0,590.2 545.5,547.2 558.5,565.6 570.5,554.7 583.0,525.3 595.0,498.4 608.0,488.5 621.0,472.6 633.0,470.5 645.5,486.5 658.0,512.3 670.0,493.8 683.0,487.8 695.0,470.6 708.0,501.8 720.5,494.0 732.5,525.3 745.0,557.9 758.0,558.5 770.0,557.5 783.0,566.3 795.0,565.9 808.0,590.6 821.0,589.3 832.5,554.5 845.5,557.2 857.5,568.4 870.5,585.5 883.0,585.8 895.0,590.9 908.0,532.5 920.5,573.0 932.5,581.1 945.0,587.7 957.5,537.7 970.0,554.7 983.0,526.1 995.0,542.9 1007.5,551.7 1020.5,550.7 1032.5,562.7 1045.0,530.1 1057.0,509.2 1070.0,471.6 1083.0,466.4 1095.0,502.3 1107.5,513.3 1120.0,492.1 1132.5,478.0 1145.5,491.1 1157.5,501.6 1170.5,546.6 1183.0,518.0 1195.0,502.9 1208.0,541.3 1219.5,540.1 1232.5,546.5 1245.5,567.6 1257.5,569.2 1270.0,585.8 1283.0,579.0 1294.5,589.1 1307.5,590.3 1319.5,600.4 1332.5,616.0 1345.0,582.5 1357.0,594.0 1370.0,602.8 1382.0,607.2 1395.0,612.6 1407.5,598.1 1419.5,533.6 1432.5,512.5 1445.0,503.1 1457.0,532.1 1470.0,513.0 1482.0,502.1 1494.5,535.0 1507.5,518.3 1519.0,511.9 1532.0,529.7 1545.0,554.7 1557.0,554.4 1569.5,519.1 1582.0,506.6 1594.5,534.3 1607.5,535.8 1619.5,538.0 1632.5,555.6 1645.5,525.7 1657.0,546.0 1670.0,528.1 1682.0,502.3 1695.0,494.5 1707.5,536.9 1719.5,567.1 1732.5,581.4 1744.5,580.0 1757.0,577.2 1770.0,514.2 1782.0,484.5 1794.5,483.7 1807.5,468.6 1819.5,511.9 1832.5,498.6" stroke="#3333ff" stroke-width="1.1" stroke-opacity="0.55"/>
<path d="M10 707.0H1855" stroke="#6666ff" stroke-width="1.6" stroke-dasharray="5 5.9" stroke-linecap="butt"/>
<path d="M10 803.9H1855" stroke="#6666ff" stroke-width="1.6" stroke-dasharray="5 5.9" stroke-linecap="butt"/>
<polyline points="9.1,786.1 21.5,778.9 34.5,762.2 46.0,735.5 59.0,716.9 71.0,704.0 83.5,706.0 96.5,712.0 108.5,718.5 121.5,724.3 134.0,719.3 146.0,725.2 158.5,734.3 170.5,762.8 183.5,787.0 196.0,813.0 208.0,825.2 221.0,831.2 233.0,830.9 245.5,829.2 258.5,829.0 270.5,825.9 283.5,819.3 296.5,807.5 308.0,788.6 321.0,771.7 333.0,755.0 345.5,751.7 358.0,756.7 370.5,776.5 383.0,794.6 396.0,805.8 408.0,800.6 421.0,780.8 433.0,750.2 445.5,723.5 458.0,719.7 470.0,738.0 483.0,760.5 495.0,770.3 508.0,774.3 521.0,781.2 533.0,795.6 545.5,801.6 558.5,799.6 570.5,789.2 583.0,775.0 595.0,750.8 608.0,717.9 621.0,691.8 633.0,680.2 645.5,683.8 658.0,696.9 670.0,710.6 683.0,719.8 695.0,715.0 708.0,710.3 720.5,708.3 732.5,720.1 745.0,737.8 758.0,764.7 770.0,787.9 783.0,801.2 795.0,799.8 808.0,796.9 821.0,797.7 832.5,802.0 845.5,796.9 857.5,786.2 870.5,782.2 883.0,787.4 895.0,800.9 908.0,797.2 920.5,794.3 932.5,788.8 945.0,805.9 957.5,810.8 970.0,809.5 983.0,781.3 995.0,759.9 1007.5,738.3 1020.5,739.6 1032.5,746.9 1045.0,758.5 1057.0,758.2 1070.0,744.1 1083.0,722.4 1095.0,703.7 1107.5,700.1 1120.0,706.0 1132.5,711.2 1145.5,708.9 1157.5,709.7 1170.5,724.8 1183.0,746.0 1195.0,759.2 1208.0,757.9 1219.5,756.1 1232.5,768.0 1245.5,786.4 1257.5,806.2 1270.0,815.9 1283.0,817.1 1294.5,811.8 1307.5,806.6 1319.5,804.3 1332.5,804.9 1345.0,802.1 1357.0,804.0 1370.0,802.3 1382.0,807.3 1395.0,807.1 1407.5,807.9 1419.5,791.0 1432.5,761.9 1445.0,721.8 1457.0,699.8 1470.0,693.8 1482.0,701.1 1494.5,710.6 1507.5,721.2 1519.0,735.3 1532.0,743.6 1545.0,758.8 1557.0,777.9 1569.5,792.8 1582.0,783.9 1594.5,759.6 1607.5,739.5 1619.5,740.4 1632.5,755.6 1645.5,769.6 1657.0,778.5 1670.0,771.9 1682.0,762.7 1695.0,741.1 1707.5,731.2 1719.5,733.1 1732.5,760.2 1744.5,787.6 1757.0,807.3 1770.0,797.6 1782.0,772.2 1794.5,735.1 1807.5,709.4 1819.5,697.6 1832.5,696.5" stroke="#ff00ff" stroke-width="1.3" stroke-opacity="0.5"/>
<polyline points="9.1,783.8 21.5,762.6 34.5,740.3 46.0,703.5 59.0,706.8 71.0,701.5 83.5,709.5 96.5,725.0 108.5,721.1 121.5,726.9 134.0,709.9 146.0,738.8 158.5,754.1 170.5,795.5 183.5,811.4 196.0,831.9 208.0,832.3 221.0,829.3 233.0,831.1 245.5,827.4 258.5,828.5 270.5,822.0 283.5,807.4 296.5,793.0 308.0,765.3 321.0,756.8 333.0,742.9 345.5,755.5 358.0,771.7 370.5,802.4 383.0,809.7 396.0,805.2 408.0,787.0 421.0,750.2 433.0,713.3 445.5,706.8 458.0,739.0 470.0,768.3 483.0,774.3 495.0,768.3 508.0,780.2 521.0,795.1 533.0,811.5 545.5,798.3 558.5,789.1 570.5,780.3 583.0,755.8 595.0,716.5 608.0,681.5 621.0,677.3 633.0,681.9 645.5,692.3 658.0,716.4 670.0,723.2 683.0,719.6 695.0,702.1 708.0,709.1 720.5,713.7 732.5,737.5 745.0,762.2 758.0,794.3 770.0,807.3 783.0,802.1 795.0,790.1 808.0,798.7 821.0,804.3 832.5,802.9 845.5,783.6 857.5,772.2 870.5,790.7 883.0,799.2 895.0,812.6 908.0,779.7 920.5,790.6 932.5,796.1 945.0,831.0 957.5,805.4 970.0,792.1 983.0,746.4 995.0,741.1 1007.5,727.4 1020.5,750.4 1032.5,762.8 1045.0,762.3 1057.0,749.4 1070.0,720.7 1083.0,697.0 1095.0,693.5 1107.5,709.8 1120.0,714.6 1132.5,709.1 1145.5,703.0 1157.5,716.9 1170.5,754.5 1183.0,766.4 1195.0,756.6 1208.0,750.6 1219.5,761.0 1232.5,792.4 1245.5,806.0 1257.5,820.2 1270.0,821.6 1283.0,809.5 1294.5,804.2 1307.5,806.2 1319.5,802.5 1332.5,806.2 1345.0,797.5 1357.0,808.4 1370.0,801.1 1382.0,812.4 1395.0,807.7 1407.5,803.7 1419.5,761.7 1432.5,720.2 1445.0,683.6 1457.0,695.7 1470.0,702.2 1482.0,705.5 1494.5,724.1 1507.5,733.9 1519.0,748.0 1532.0,748.9 1545.0,779.6 1557.0,805.2 1569.5,793.5 1582.0,753.0 1594.5,732.4 1607.5,733.1 1619.5,755.8 1632.5,777.8 1645.5,775.3 1657.0,782.6 1670.0,757.8 1682.0,747.7 1695.0,717.6 1707.5,728.1 1719.5,753.7 1732.5,798.7 1744.5,810.5 1757.0,812.8 1770.0,769.4 1782.0,734.3 1794.5,701.5 1807.5,692.5 1819.5,698.8 1832.5,698.5" stroke="#3333ff" stroke-width="1.3" stroke-opacity="0.45"/>
</g>
<path d="M10 433.9H1906" stroke="#555" stroke-width="1.7" fill="none"/>
<path d="M10 645.6H1906" stroke="#333" stroke-width="1.1" fill="none"/>
<path d="M10 853.5H1906" stroke="#222" stroke-width="1.2" fill="none"/>
<path d="M1855.2 10V874.8" stroke="#555" stroke-width="1.6" fill="none"/>
<text x="18.1" y="29.8" font-size="12" font-weight="normal" fill="#3c3c3c" text-anchor="start" textLength="151.0" lengthAdjust="spacingAndGlyphs">FOREX EUR=, 1M, NYS, Bid</text>
<text x="178.5" y="29.8" font-size="12" font-weight="normal" fill="#3c3c3c" text-anchor="start" textLength="8.5" lengthAdjust="spacingAndGlyphs">O</text>
<text x="187.7" y="29.8" font-size="12" font-weight="normal" fill="#4040ff" text-anchor="start" textLength="37.2" lengthAdjust="spacingAndGlyphs">1.1414</text>
<text x="233.0" y="29.8" font-size="12" font-weight="normal" fill="#3c3c3c" text-anchor="start" textLength="8.0" lengthAdjust="spacingAndGlyphs">H</text>
<text x="242.4" y="29.8" font-size="12" font-weight="normal" fill="#4040ff" text-anchor="start" textLength="37.2" lengthAdjust="spacingAndGlyphs">1.1698</text>
<text x="287.7" y="29.8" font-size="12" font-weight="normal" fill="#3c3c3c" text-anchor="start" textLength="6.0" lengthAdjust="spacingAndGlyphs">L</text>
<text x="295.0" y="29.8" font-size="12" font-weight="normal" fill="#4040ff" text-anchor="start" textLength="37.2" lengthAdjust="spacingAndGlyphs">1.1389</text>
<text x="340.3" y="29.8" font-size="12" font-weight="normal" fill="#3c3c3c" text-anchor="start" textLength="7.5" lengthAdjust="spacingAndGlyphs">C</text>
<text x="349.0" y="29.8" font-size="12" font-weight="normal" fill="#4040ff" text-anchor="start" textLength="37.2" lengthAdjust="spacingAndGlyphs">1.1665</text>
<text x="394.5" y="29.8" font-size="12" font-weight="normal" fill="#4040ff" text-anchor="start" textLength="90.0" lengthAdjust="spacingAndGlyphs">0.0250 (+2.19%)</text>
<text x="503.0" y="29.8" font-size="12" font-weight="normal" fill="#3c3c3c" text-anchor="start" textLength="90.2" lengthAdjust="spacingAndGlyphs">MA (4, close, 0)</text>
<text x="602.0" y="29.8" font-size="12" font-weight="normal" fill="#ff33ff" text-anchor="start" textLength="37.2" lengthAdjust="spacingAndGlyphs">1.1553</text>
<text x="657.4" y="29.8" font-size="12" font-weight="normal" fill="#3c3c3c" text-anchor="start" textLength="90.0" lengthAdjust="spacingAndGlyphs">MA (9, close, 0)</text>
<text x="756.2" y="29.8" font-size="12" font-weight="normal" fill="#00cc00" text-anchor="start" textLength="37.6" lengthAdjust="spacingAndGlyphs">1.1050</text>
<text x="812.0" y="29.8" font-size="12" font-weight="normal" fill="#3c3c3c" text-anchor="start" textLength="96.6" lengthAdjust="spacingAndGlyphs">MA (25, close, 0)</text>
<text x="917.3" y="29.8" font-size="12" font-weight="normal" fill="#99003a" text-anchor="start" textLength="37.1" lengthAdjust="spacingAndGlyphs">1.0898</text>
<text x="972.8" y="29.8" font-size="12" font-weight="normal" fill="#3c3c3c" text-anchor="start" textLength="96.3" lengthAdjust="spacingAndGlyphs">MA (50, close, 0)</text>
<text x="1077.6" y="29.8" font-size="12" font-weight="normal" fill="#00cccc" text-anchor="start" textLength="38.2" lengthAdjust="spacingAndGlyphs">1.0884</text>
<text x="1134.0" y="29.8" font-size="12" font-weight="normal" fill="#3c3c3c" text-anchor="start" textLength="102.8" lengthAdjust="spacingAndGlyphs">MA (100, close, 0)</text>
<text x="1245.7" y="29.8" font-size="12" font-weight="normal" fill="#1a8a1a" text-anchor="start" textLength="37.1" lengthAdjust="spacingAndGlyphs">1.1231</text>
<text x="1301.4" y="29.8" font-size="12" font-weight="normal" fill="#3c3c3c" text-anchor="start" textLength="103.1" lengthAdjust="spacingAndGlyphs">MA (250, close, 0)</text>
<text x="1413.0" y="29.8" font-size="12" font-weight="normal" fill="#ff3333" text-anchor="start" textLength="38.4" lengthAdjust="spacingAndGlyphs">1.2267</text>
<text x="17.9" y="454.3" font-size="12" font-weight="normal" fill="#3c3c3c" text-anchor="start" textLength="181.9" lengthAdjust="spacingAndGlyphs">RSI (9, Exponential, Simple, 14)</text>
<text x="209.0" y="454.3" font-size="12" font-weight="normal" fill="#4040ff" text-anchor="start" textLength="43.5" lengthAdjust="spacingAndGlyphs">69.2211</text>
<text x="261.8" y="454.3" font-size="12" font-weight="normal" fill="#1a8a60" text-anchor="start" textLength="44.1" lengthAdjust="spacingAndGlyphs">56.2131</text>
<text x="324.8" y="454.3" font-size="12" font-weight="normal" fill="#3c3c3c" text-anchor="start" textLength="189.2" lengthAdjust="spacingAndGlyphs">RSI (14, Exponential, Simple, 25)</text>
<text x="522.6" y="454.3" font-size="12" font-weight="normal" fill="#ff33ff" text-anchor="start" textLength="44.1" lengthAdjust="spacingAndGlyphs">66.9386</text>
<text x="576.0" y="454.3" font-size="12" font-weight="normal" fill="#555" text-anchor="start" textLength="44.0" lengthAdjust="spacingAndGlyphs">52.7245</text>
<text x="17.8" y="666.0" font-size="12" font-weight="normal" fill="#3c3c3c" text-anchor="start" textLength="186.4" lengthAdjust="spacingAndGlyphs">Stochastic Slow (5, 3, 3, Simple)</text>
<text x="213.0" y="666.0" font-size="12" font-weight="normal" fill="#4040ff" text-anchor="start" textLength="37.6" lengthAdjust="spacingAndGlyphs">85.244</text>
<text x="259.0" y="666.0" font-size="12" font-weight="normal" fill="#ff33ff" text-anchor="start" textLength="38.0" lengthAdjust="spacingAndGlyphs">86.460</text>
<g clip-path="url(#cp2)">
<text x="9.1" y="867.3" font-size="9" font-weight="normal" fill="#666" text-anchor="middle" textLength="12.0" lengthAdjust="spacingAndGlyphs">Jun</text>
<text x="96.5" y="867.3" font-size="9" font-weight="bold" fill="#3a3a3a" text-anchor="middle" textLength="17.6" lengthAdjust="spacingAndGlyphs">2014</text>
<text x="158.5" y="867.3" font-size="9" font-weight="normal" fill="#666" text-anchor="middle" textLength="12.0" lengthAdjust="spacingAndGlyphs">Jun</text>
<text x="245.5" y="867.3" font-size="9" font-weight="bold" fill="#3a3a3a" text-anchor="middle" textLength="17.6" lengthAdjust="spacingAndGlyphs">2015</text>
<text x="308.0" y="867.3" font-size="9" font-weight="normal" fill="#666" text-anchor="middle" textLength="12.0" lengthAdjust="spacingAndGlyphs">Jun</text>
<text x="396.0" y="867.3" font-size="9" font-weight="bold" fill="#3a3a3a" text-anchor="middle" textLength="17.6" lengthAdjust="spacingAndGlyphs">2016</text>
<text x="458.0" y="867.3" font-size="9" font-weight="normal" fill="#666" text-anchor="middle" textLength="12.0" lengthAdjust="spacingAndGlyphs">Jun</text>
<text x="545.5" y="867.3" font-size="9" font-weight="bold" fill="#3a3a3a" text-anchor="middle" textLength="17.6" lengthAdjust="spacingAndGlyphs">2017</text>
<text x="608.0" y="867.3" font-size="9" font-weight="normal" fill="#666" text-anchor="middle" textLength="12.0" lengthAdjust="spacingAndGlyphs">Jun</text>
<text x="695.0" y="867.3" font-size="9" font-weight="bold" fill="#3a3a3a" text-anchor="middle" textLength="17.6" lengthAdjust="spacingAndGlyphs">2018</text>
<text x="758.0" y="867.3" font-size="9" font-weight="normal" fill="#666" text-anchor="middle" textLength="12.0" lengthAdjust="spacingAndGlyphs">Jun</text>
<text x="845.5" y="867.3" font-size="9" font-weight="bold" fill="#3a3a3a" text-anchor="middle" textLength="17.6" lengthAdjust="spacingAndGlyphs">2019</text>
<text x="908.0" y="867.3" font-size="9" font-weight="normal" fill="#666" text-anchor="middle" textLength="12.0" lengthAdjust="spacingAndGlyphs">Jun</text>
<text x="995.0" y="867.3" font-size="9" font-weight="bold" fill="#3a3a3a" text-anchor="middle" textLength="17.6" lengthAdjust="spacingAndGlyphs">2020</text>
<text x="1057.0" y="867.3" font-size="9" font-weight="normal" fill="#666" text-anchor="middle" textLength="12.0" lengthAdjust="spacingAndGlyphs">Jun</text>
<text x="1145.5" y="867.3" font-size="9" font-weight="bold" fill="#3a3a3a" text-anchor="middle" textLength="17.6" lengthAdjust="spacingAndGlyphs">2021</text>
<text x="1208.0" y="867.3" font-size="9" font-weight="normal" fill="#666" text-anchor="middle" textLength="12.0" lengthAdjust="spacingAndGlyphs">Jun</text>
<text x="1294.5" y="867.3" font-size="9" font-weight="bold" fill="#3a3a3a" text-anchor="middle" textLength="17.6" lengthAdjust="spacingAndGlyphs">2022</text>
<text x="1357.0" y="867.3" font-size="9" font-weight="normal" fill="#666" text-anchor="middle" textLength="12.0" lengthAdjust="spacingAndGlyphs">Jun</text>
<text x="1445.0" y="867.3" font-size="9" font-weight="bold" fill="#3a3a3a" text-anchor="middle" textLength="17.6" lengthAdjust="spacingAndGlyphs">2023</text>
<text x="1507.5" y="867.3" font-size="9" font-weight="normal" fill="#666" text-anchor="middle" textLength="12.0" lengthAdjust="spacingAndGlyphs">Jun</text>
<text x="1594.5" y="867.3" font-size="9" font-weight="bold" fill="#3a3a3a" text-anchor="middle" textLength="17.6" lengthAdjust="spacingAndGlyphs">2024</text>
<text x="1657.0" y="867.3" font-size="9" font-weight="normal" fill="#666" text-anchor="middle" textLength="12.0" lengthAdjust="spacingAndGlyphs">Jun</text>
<text x="1744.5" y="867.3" font-size="9" font-weight="bold" fill="#3a3a3a" text-anchor="middle" textLength="17.6" lengthAdjust="spacingAndGlyphs">2025</text>
<text x="1807.5" y="867.3" font-size="9" font-weight="normal" fill="#666" text-anchor="middle" textLength="12.0" lengthAdjust="spacingAndGlyphs">Jun</text>
</g>
<text x="1860.0" y="75.8" font-size="8" font-weight="normal" fill="#555" text-anchor="start" textLength="23.5" lengthAdjust="spacingAndGlyphs">1.4000</text>
<text x="1860.0" y="111.3" font-size="8" font-weight="normal" fill="#555" text-anchor="start" textLength="23.5" lengthAdjust="spacingAndGlyphs">1.3500</text>
<text x="1860.0" y="146.3" font-size="8" font-weight="normal" fill="#555" text-anchor="start" textLength="23.5" lengthAdjust="spacingAndGlyphs">1.3000</text>
<text x="1860.0" y="181.8" font-size="8" font-weight="normal" fill="#555" text-anchor="start" textLength="23.5" lengthAdjust="spacingAndGlyphs">1.2500</text>
<text x="1860.0" y="217.6" font-size="8" font-weight="normal" fill="#555" text-anchor="start" textLength="23.5" lengthAdjust="spacingAndGlyphs">1.2000</text>
<text x="1860.0" y="253.4" font-size="8" font-weight="normal" fill="#555" text-anchor="start" textLength="23.5" lengthAdjust="spacingAndGlyphs">1.1500</text>
<text x="1860.0" y="288.9" font-size="8" font-weight="normal" fill="#555" text-anchor="start" textLength="23.5" lengthAdjust="spacingAndGlyphs">1.1000</text>
<text x="1860.0" y="324.9" font-size="8" font-weight="normal" fill="#555" text-anchor="start" textLength="23.5" lengthAdjust="spacingAndGlyphs">1.0500</text>
<text x="1860.0" y="359.8" font-size="8" font-weight="normal" fill="#555" text-anchor="start" textLength="23.5" lengthAdjust="spacingAndGlyphs">1.0000</text>
<text x="1860.0" y="396.0" font-size="8" font-weight="normal" fill="#555" text-anchor="start" textLength="23.5" lengthAdjust="spacingAndGlyphs">0.9500</text>
<text x="1860.0" y="431.5" font-size="8" font-weight="normal" fill="#555" text-anchor="start" textLength="23.5" lengthAdjust="spacingAndGlyphs">0.9000</text>
<text x="1860.0" y="632.5" font-size="8" font-weight="normal" fill="#555" text-anchor="start" textLength="23.5" lengthAdjust="spacingAndGlyphs">0.0000</text>
<text x="1860.0" y="595.0" font-size="8" font-weight="normal" fill="#555" text-anchor="start" textLength="28.0" lengthAdjust="spacingAndGlyphs">20.0000</text>
<text x="1860.0" y="557.0" font-size="8" font-weight="normal" fill="#555" text-anchor="start" textLength="28.0" lengthAdjust="spacingAndGlyphs">40.0000</text>
<text x="1860.0" y="519.0" font-size="8" font-weight="normal" fill="#555" text-anchor="start" textLength="28.0" lengthAdjust="spacingAndGlyphs">60.0000</text>
<text x="1860.0" y="481.1" font-size="8" font-weight="normal" fill="#555" text-anchor="start" textLength="28.0" lengthAdjust="spacingAndGlyphs">80.0000</text>
<text x="1860.0" y="443.3" font-size="8" font-weight="normal" fill="#555" text-anchor="start" textLength="32.5" lengthAdjust="spacingAndGlyphs">100.0000</text>
<text x="1860.0" y="838.2" font-size="8" font-weight="normal" fill="#555" text-anchor="start" textLength="19.5" lengthAdjust="spacingAndGlyphs">0.000</text>
<text x="1860.0" y="806.6" font-size="8" font-weight="normal" fill="#555" text-anchor="start" textLength="24.0" lengthAdjust="spacingAndGlyphs">20.000</text>
<text x="1860.0" y="774.0" font-size="8" font-weight="normal" fill="#555" text-anchor="start" textLength="24.0" lengthAdjust="spacingAndGlyphs">40.000</text>
<text x="1860.0" y="742.3" font-size="8" font-weight="normal" fill="#555" text-anchor="start" textLength="24.0" lengthAdjust="spacingAndGlyphs">60.000</text>
<text x="1860.0" y="709.7" font-size="8" font-weight="normal" fill="#555" text-anchor="start" textLength="24.0" lengthAdjust="spacingAndGlyphs">80.000</text>
<text x="1860.0" y="677.2" font-size="8" font-weight="normal" fill="#555" text-anchor="start" textLength="28.5" lengthAdjust="spacingAndGlyphs">100.000</text>
<path d="M1856 191.2h29.3a2 2 0 0 1 2 2v6.6a2 2 0 0 1 -2 2h-29.3z" fill="#ff3333"/>
<text x="1860.0" y="199.6" font-size="8.6" font-weight="bold" fill="#fff" text-anchor="start" textLength="23.8" lengthAdjust="spacingAndGlyphs">1.2267</text>
<path d="M1856 233.7h29.3a2 2 0 0 1 2 2v6.6a2 2 0 0 1 -2 2h-29.3z" fill="#000000"/>
<text x="1860.0" y="242.1" font-size="8.6" font-weight="bold" fill="#fff" text-anchor="start" textLength="23.8" lengthAdjust="spacingAndGlyphs">1.1665</text>
<path d="M1856 245.7h29.3a2 2 0 0 1 2 2v6.6a2 2 0 0 1 -2 2h-29.3z" fill="#ff00ff"/>
<text x="1860.0" y="254.1" font-size="8.6" font-weight="bold" fill="#fff" text-anchor="start" textLength="23.8" lengthAdjust="spacingAndGlyphs">1.1553</text>
<path d="M1856 264.7h29.3a2 2 0 0 1 2 2v6.6a2 2 0 0 1 -2 2h-29.3z" fill="#008000"/>
<text x="1860.0" y="273.1" font-size="8.6" font-weight="bold" fill="#fff" text-anchor="start" textLength="23.8" lengthAdjust="spacingAndGlyphs">1.1231</text>
<path d="M1856 277.1h29.3a2 2 0 0 1 2 2v6.6a2 2 0 0 1 -2 2h-29.3z" fill="#00cc00"/>
<text x="1860.0" y="285.5" font-size="8.6" font-weight="bold" fill="#fff" text-anchor="start" textLength="23.8" lengthAdjust="spacingAndGlyphs">1.1050</text>
<path d="M1856 289.5h29.3a2 2 0 0 1 2 2v6.6a2 2 0 0 1 -2 2h-29.3z" fill="#8b0a3c"/>
<text x="1860.0" y="297.9" font-size="8.6" font-weight="bold" fill="#fff" text-anchor="start" textLength="23.8" lengthAdjust="spacingAndGlyphs">1.0898</text>
<path d="M1856 300.7h29.3a2 2 0 0 1 2 2v6.6a2 2 0 0 1 -2 2h-29.3z" fill="#00cccc"/>
<text x="1860.0" y="309.1" font-size="8.6" font-weight="bold" fill="#1e6e74" text-anchor="start" textLength="23.8" lengthAdjust="spacingAndGlyphs">1.0884</text>
<path d="M1856 494.2h34.3a2 2 0 0 1 2 2v6.6a2 2 0 0 1 -2 2h-34.3z" fill="#3333ff"/>
<text x="1860.0" y="502.6" font-size="8.6" font-weight="bold" fill="#fff" text-anchor="start" textLength="28.8" lengthAdjust="spacingAndGlyphs">69.2211</text>
<path d="M1856 505.1h34.3a2 2 0 0 1 2 2v6.6a2 2 0 0 1 -2 2h-34.3z" fill="#ff00ff"/>
<text x="1860.0" y="513.5" font-size="8.6" font-weight="bold" fill="#fff" text-anchor="start" textLength="28.8" lengthAdjust="spacingAndGlyphs">66.9386</text>
<path d="M1856 517.6h34.3a2 2 0 0 1 2 2v6.6a2 2 0 0 1 -2 2h-34.3z" fill="#0a6e4f"/>
<text x="1860.0" y="526.0" font-size="8.6" font-weight="bold" fill="#fff" text-anchor="start" textLength="28.8" lengthAdjust="spacingAndGlyphs">56.2131</text>
<path d="M1856 529.3h34.3a2 2 0 0 1 2 2v6.6a2 2 0 0 1 -2 2h-34.3z" fill="#555555"/>
<text x="1860.0" y="537.7" font-size="8.6" font-weight="bold" fill="#fff" text-anchor="start" textLength="28.8" lengthAdjust="spacingAndGlyphs">52.7245</text>
<path d="M1856 682.5h29.0a2 2 0 0 1 2 2v6.6a2 2 0 0 1 -2 2h-29.0z" fill="#ff00ff"/>
<text x="1860.0" y="690.9" font-size="8.6" font-weight="bold" fill="#fff" text-anchor="start" textLength="23.5" lengthAdjust="spacingAndGlyphs">86.460</text>
<path d="M1856 693.7h29.0a2 2 0 0 1 2 2v6.6a2 2 0 0 1 -2 2h-29.0z" fill="#3333ff"/>
<text x="1860.0" y="702.1" font-size="8.6" font-weight="bold" fill="#fff" text-anchor="start" textLength="23.5" lengthAdjust="spacingAndGlyphs">85.244</text>
<rect x="1858.5" y="13.5" width="44" height="26.5" rx="4" ry="4" fill="#fff" stroke="#eeeeee" stroke-width="1.2"/>
<text x="1878.0" y="32.0" font-size="12" font-weight="normal" fill="#333" text-anchor="middle" textLength="20.2" lengthAdjust="spacingAndGlyphs">USD</text>
<g transform="translate(1831.75,885)" fill="#0a1eff" stroke="none">
<path d="M0.4 1.2L1.6 0.2L3 1.4L5.4 0.2L7.6 1.6L9.6 1.2L11 2.6V8L9.4 9.2L8.2 11L9 13L7.6 14.2L6.6 12.6L5.2 14.4L3.8 16.6L2.8 15.2L4.4 12.2L3 10.6L1.4 11.6L0.2 10.2L2 8.6L3.2 7.2L1.2 6.2L0.2 4.6L1.6 3.6Z"/>
<path d="M28.6 1.4L27.4 0.2L25.6 1.2L23.8 0L21.6 1.4L19.6 1.2L18.2 2.6V8L19.8 9.2L20.8 11L20 13L21.4 14.2L22.4 12.6L23.8 14.4L25 16.4L26 15L24.6 12.2L26 10.6L27.6 11.4L28.8 9.8L27 8.4L26 7L27.8 6L28.8 4.4L27.4 3.4Z"/>
<path fill-rule="evenodd" d="M10.4 2.8H18.8V10C18.8 14 16.4 16.2 14.6 17.4C12.8 16.2 10.4 14 10.4 10ZM14.6 6.6a3 3 0 1 0 0.01 0ZM14.6 8a1.6 1.6 0 1 1 -0.01 0Z"/>
<g fill="#fff"><rect x="3.6" y="2.6" width="1.2" height="1"/><rect x="6.6" y="3.8" width="1.4" height="0.9"/><rect x="2.2" y="5" width="1" height="0.9"/><rect x="5" y="6.4" width="1.3" height="1"/><rect x="8" y="6" width="1" height="1.4"/><rect x="4" y="9" width="1.2" height="1"/><rect x="6.6" y="10" width="1" height="1.2"/><rect x="5" y="12.2" width="0.9" height="0.9"/><rect x="24" y="2.4" width="1.3" height="1"/><rect x="21" y="3.4" width="1" height="1.6"/><rect x="25.6" y="4.6" width="1.1" height="1"/><rect x="22.6" y="6.2" width="1.4" height="1"/><rect x="20" y="6.4" width="0.9" height="1.3"/><rect x="24" y="9" width="1.2" height="1"/><rect x="21.6" y="10.2" width="1" height="1.1"/><rect x="23" y="12.4" width="0.9" height="0.9"/><rect x="12" y="4" width="1.6" height="0.9"/><rect x="16" y="4.4" width="1.4" height="0.9"/><rect x="11.6" y="11.6" width="1" height="1"/><rect x="16.8" y="12" width="1" height="1"/></g>
<path d="M3 16.4Q14.6 21.4 26 16.2" fill="none" stroke="#0a1eff" stroke-width="1.5" stroke-dasharray="1.3 1.1"/>
</g>
<text transform="translate(1866.3,899.8) scale(0.925,1)" x="0 9.75 21.3 31.1" y="0" font-size="14.7" font-weight="bold" fill="#0a1eff">LSEG</text>
</svg>
</body></html>
